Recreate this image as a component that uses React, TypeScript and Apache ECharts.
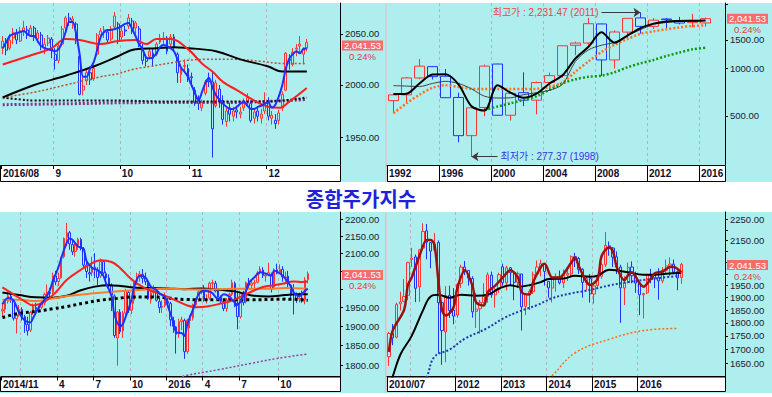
import { useEffect, useRef } from 'react';
import * as echarts from 'echarts';

type OHLC = [number, number, number, number]; // [open, close, low, high]
type Pt = [number, number]; // [category index, value]
type Mark = [number, string]; // [boundary index, label]

const FONT = "'Liberation Sans', Arial, 'Noto Sans CJK KR', sans-serif";
const KFONT = "'Noto Sans CJK KR', 'Noto Sans CJK SC', sans-serif";
const CYAN = '#afeeee';
const UP = '#ff3434';
const DOWN = '#2233ff';

const titleText = '종합주가지수';
const changePct = 0.24;

// ================= Panel 1 : daily 2016/08 - 2016/12 =================
const p1MonthLabels = ['2016/08', '9', '10', '11', '12'];
const p1MonthDays = [15, 19, 20, 22, 12];
const p1Slots = 97;
const p1Ohlc: OHLC[] = [
  [2036, 2043, 2030, 2048], [2043, 2034, 2029, 2046], [2036, 2044, 2034, 2050], [2046, 2051, 2040, 2056], [2050, 2044, 2040, 2055],
  [2043, 2053, 2042, 2057], [2053, 2056, 2048, 2063], [2054, 2049, 2045, 2058], [2049, 2056, 2047, 2059], [2056, 2047, 2043, 2058],
  [2045, 2051, 2042, 2054], [2049, 2038, 2034, 2052], [2036, 2040, 2030, 2046], [2041, 2046, 2038, 2049], [2045, 2034, 2026, 2047],
  [2030, 2024, 2015, 2036], [2024, 2038, 2021, 2040], [2040, 2055, 2038, 2058], [2056, 2066, 2052, 2068], [2066, 2064, 2058, 2071],
  [2063, 2065, 2055, 2068], [2060, 2045, 2040, 2062], [2028, 1991, 1990, 2030], [1995, 1999, 1990, 2008], [2004, 2012, 2000, 2016],
  [2012, 2005, 2000, 2018], [2006, 2016, 2004, 2020], [2030, 2049, 2028, 2051], [2049, 2053, 2044, 2056], [2052, 2054, 2046, 2058],
  [2052, 2044, 2040, 2055], [2045, 2055, 2043, 2058], [2057, 2068, 2055, 2072], [2060, 2043, 2040, 2062], [2047, 2053, 2044, 2058],
  [2054, 2053, 2048, 2058], [2058, 2066, 2055, 2070], [2063, 2054, 2050, 2066], [2056, 2061, 2050, 2063], [2055, 2040, 2037, 2058],
  [2034, 2024, 2020, 2040], [2026, 2023, 2018, 2030], [2028, 2033, 2025, 2036], [2031, 2026, 2018, 2036], [2030, 2040, 2028, 2042],
  [2042, 2046, 2040, 2050], [2045, 2046, 2040, 2052], [2046, 2033, 2030, 2048], [2040, 2047, 2036, 2050], [2047, 2037, 2033, 2050],
  [2030, 2012, 2002, 2032], [2010, 2016, 2002, 2020], [2018, 2019, 2012, 2025], [2016, 2008, 2003, 2020], [2008, 2007, 1998, 2012],
  [1995, 1983, 1980, 1998], [1985, 1982, 1976, 1990], [1978, 1983, 1975, 1986], [1992, 2003, 1990, 2005], [2004, 2003, 1998, 2012],
  [2003, 1958, 1931, 2013], [1980, 2002, 1978, 2005], [1996, 1984, 1978, 2000], [1985, 1967, 1962, 1990], [1965, 1975, 1960, 1978],
  [1978, 1972, 1965, 1983], [1970, 1975, 1965, 1979], [1976, 1974, 1968, 1980], [1972, 1974, 1968, 1979], [1978, 1983, 1975, 1987],
  [1984, 1988, 1980, 1992], [1982, 1966, 1964, 1985], [1968, 1974, 1963, 1978], [1975, 1970, 1965, 1978], [1968, 1972, 1963, 1977],
  [1975, 1983, 1972, 1993], [1985, 1970, 1966, 1988], [1968, 1971, 1962, 1975], [1966, 1963, 1958, 1972], [1966, 1973, 1962, 1976],
  [1978, 1991, 1975, 1994], [1995, 2031, 1994, 2032], [2025, 2024, 2015, 2030], [2020, 2032, 2018, 2036], [2035, 2036, 2028, 2040],
  [2038, 2040, 2032, 2048], [2030, 2035, 2020, 2037], [2036, 2041.53, 2033, 2045],
];
const p1Ma5: number[] = [
  2036, 2042, 2048, 2050, 2051, 2052, 2053, 2050, 2048, 2048,
  2043, 2038, 2036, 2035, 2034, 2033, 2035, 2042, 2052, 2062,
  2062, 2050, 2030, 2008, 2008, 2016, 2022, 2034, 2047, 2052,
  2054, 2054, 2055, 2056, 2058, 2060, 2061, 2055, 2048, 2040,
  2035, 2027, 2026, 2027, 2031, 2037, 2039, 2038, 2036, 2033,
  2025, 2017, 2013, 2008, 2000, 1992, 1985, 1993, 2002, 2007,
  1998, 1990, 1986, 1982, 1979, 1977, 1977, 1979, 1982, 1984,
  1980, 1977, 1977, 1979, 1980, 1982, 1983, 1978, 1981, 1989,
  2000, 2016, 2026, 2030, 2033, 2031, 2035, 2036,
];
const p1Ma20: Pt[] = [[0, 2020], [9, 2030], [14, 2036], [18, 2045], [22, 2044], [28, 2040], [33, 2043], [38, 2044], [41, 2040], [44, 2045], [48, 2045], [53, 2035], [57, 2021], [60, 2013], [63, 2003], [67, 1995], [72, 1985], [76, 1979], [79, 1978], [82, 1984], [87, 1997]];
const p1Ma60: Pt[] = [[0, 1988], [9, 2000], [14, 2005], [18, 2009], [26, 2018], [33, 2028], [38, 2035], [44, 2036], [49, 2037], [53, 2036], [61, 2033], [68, 2025], [76, 2018], [80, 2013], [87, 2013]];
const p1Ma120: Pt[] = [[0, 1988], [9, 1993], [18, 2000], [28, 2008], [33, 2011], [37, 2015], [42, 2018], [49, 2022], [53, 2024], [58, 2025], [66, 2025], [74, 2023], [80, 2021], [87, 2021]];
const p1MaBlackDot: Pt[] = [[0, 1988], [5, 1986], [9, 1985], [30, 1985], [50, 1984], [70, 1984], [80, 1985], [87, 1988]];
const p1MaPurpleDot: Pt[] = [[0, 1981], [20, 1982], [40, 1983], [60, 1983], [75, 1984], [87, 1986]];
const p1Range: [number, number] = [1924, 2081];
const p1Ticks = [1950, 2000, 2050];
const p1TickLabels = [1950, 2000, 2050];

// ================= Panel 2 : yearly 1992 - 2016 (log) =================
const p2FirstYear = 1992;
const p2Slots = 26;
const p2Marks: Mark[] = [[0, '1992'], [4, '1996'], [8, '2000'], [12, '2004'], [16, '2008'], [20, '2012'], [24, '2016']];
const p2Ohlc: OHLC[] = [
  [624, 678, 520, 690], [678, 866, 612, 880], [866, 1027, 850, 1139], [1020, 883, 847, 1030], [888, 651, 651, 986],
  [653, 376, 342, 700], [376, 562, 277.37, 579], [565, 1028, 498, 1052], [1059, 505, 500, 1066], [505, 694, 468, 704],
  [700, 628, 576, 940], [628, 811, 512, 822], [811, 896, 719, 936], [896, 1379, 870, 1382], [1389, 1434, 1203, 1464],
  [1435, 1897, 1345, 2065], [1891, 1124, 892, 1901], [1124, 1683, 992, 1723], [1681, 2051, 1532, 2052], [2063, 1826, 1644, 2231.47],
  [1826, 1997, 1758, 2057], [2031, 2011, 1772, 2063], [1968, 1916, 1881, 2093], [1927, 1961, 1800, 2189], [1918, 2041.53, 1817, 2073],
];
const p2MaThick: (number | null)[] = [686, 690, 800, 910, 915, 790, 575, 540, 780, 700, 650, 690, 800, 900, 1150, 1360, 1676, 1442, 1600, 1780, 1900, 1960, 1975, 1980, 1985];
const p2MaThin: (number | null)[] = [775, 770, 765, 800, 825, 800, 740, 665, 648, 650, 680, 700, 725, 790, 1100, 1300, 1390, 1450, 1600, 1740, 1880, 1930, 1960, 1975, 1985];
const p2MaOrange: (number | null)[] = [520, 600, 680, 750, 780, 760, 740, 737, 737, 737, 737, 740, 762, 810, 950, 1100, 1260, 1400, 1520, 1640, 1700, 1750, 1800, 1835, 1850];
const p2MaGreen: (number | null)[] = [null, null, null, null, null, null, null, 545, 573, 600, 630, 665, 730, 800, 850, 880, 895, 940, 1010, 1070, 1124, 1190, 1250, 1310, 1340];
const p2High = { value: 2231.47, year: '2011', arrowFrom: '2008' };
const p2Low = { value: 277.37, year: '1998', arrowFrom: '2000' };
const p2Range: [number, number] = [246, 2560];
const p2Ticks = [500, 1000, 1500, 2500];
const p2TickLabels = [500, 1000, 1500];

// ================= Panel 3 : weekly 2014/11 - 2016/12 (log) =================
const p3FirstWeek = '2014-11-10';
const p3Slots = 121;
const p3Marks: Mark[] = [[0, '2014/11'], [7, ''], [20, '4'], [33, '7'], [46, '10'], [59, '2016'], [72, '4'], [85, '7'], [99, '10']];
const p3Ohlc: OHLC[] = [
  [1940, 1944, 1925, 1960], [1945, 1965, 1935, 1970], [1966, 1981, 1960, 1990], [1980, 1970, 1962, 1992], [1968, 1921, 1915, 1972],
  [1920, 1929, 1881, 1935], [1932, 1944, 1925, 1956], [1944, 1926, 1915, 1950], [1925, 1904, 1883, 1930], [1905, 1888, 1876, 1925],
  [1890, 1936, 1885, 1940], [1937, 1952, 1930, 1960], [1950, 1946, 1932, 1962], [1945, 1950, 1938, 1955], [1950, 1961, 1945, 1966],
  [1962, 1985, 1955, 1990], [1986, 1991, 1980, 2012], [1990, 1987, 1975, 2003], [1990, 2037, 1985, 2045], [2036, 2019, 2010, 2050],
  [2020, 2029, 2008, 2045], [2030, 2087, 2028, 2090], [2090, 2143, 2085, 2146], [2145, 2159, 2120, 2189], [2160, 2127, 2110, 2165],
  [2125, 2104, 2095, 2140], [2105, 2122, 2090, 2130], [2125, 2140, 2110, 2145], [2140, 2114, 2108, 2145], [2112, 2066, 2060, 2118],
  [2065, 2048, 2030, 2075], [2045, 2041, 2020, 2060], [2045, 2060, 2035, 2090], [2060, 2053, 2030, 2100], [2050, 2031, 2010, 2060],
  [2035, 2076, 2030, 2085], [2076, 2044, 2040, 2080], [2042, 2030, 2010, 2048], [2030, 2010, 2000, 2040], [2008, 1983, 1940, 2015],
  [1980, 1876, 1870, 1985], [1870, 1937, 1800, 1940], [1937, 1886, 1880, 1945], [1888, 1934, 1870, 1940], [1935, 1995, 1930, 2000],
  [1990, 1942, 1935, 1995], [1942, 1969, 1932, 1975], [1970, 2019, 1960, 2025], [2020, 2033, 2010, 2045], [2033, 2041, 2020, 2050],
  [2040, 2029, 2015, 2055], [2030, 2020, 2010, 2045], [2018, 1973, 1970, 2025], [1970, 1989, 1960, 1995], [1990, 1991, 1975, 2010],
  [1990, 1969, 1965, 2000], [1965, 1949, 1935, 1975], [1950, 1953, 1935, 1968], [1955, 1966, 1950, 1990], [1966, 1961, 1950, 1975],
  [1960, 1917, 1900, 1965], [1915, 1900, 1883, 1925], [1898, 1879, 1830, 1900], [1880, 1912, 1870, 1920], [1912, 1917, 1890, 1925],
  [1915, 1835, 1817, 1920], [1835, 1916, 1830, 1920], [1915, 1920, 1895, 1930], [1922, 1957, 1915, 1960], [1957, 1971, 1950, 1975],
  [1972, 1992, 1965, 1996], [1992, 1995, 1985, 2000], [1995, 1972, 1965, 2010], [1970, 1972, 1960, 1985], [1975, 2015, 1970, 2020],
  [2015, 2017, 2000, 2025], [2015, 1994, 1990, 2022], [1995, 1977, 1970, 2000], [1977, 1966, 1960, 1982], [1965, 1947, 1940, 1970],
  [1947, 1969, 1938, 1975], [1970, 1985, 1965, 1990], [1985, 2017, 1980, 2025], [2015, 1953, 1950, 2020], [1955, 1925, 1892, 1995],
  [1925, 1987, 1920, 1990], [1987, 1963, 1955, 1995], [1965, 2017, 1960, 2020], [2017, 2010, 2000, 2030], [2010, 2016, 2000, 2025],
  [2015, 2017, 1995, 2025], [2018, 2044, 2015, 2050], [2045, 2055, 2040, 2063], [2052, 2037, 2030, 2060], [2035, 2038, 2020, 2045],
  [2040, 2045, 2035, 2073], [2040, 1999, 1990, 2045], [2005, 2053, 2000, 2057], [2053, 2043, 2040, 2070], [2045, 2054, 2045, 2068],
  [2054, 2033, 2020, 2063], [2030, 2033, 2018, 2048], [2035, 2019, 2005, 2050], [2010, 1983, 1975, 2012], [1990, 1984, 1931, 2013],
  [1985, 1974, 1962, 1990], [1972, 1974, 1963, 1990], [1975, 1971, 1962, 1995], [1970, 2024, 1958, 2032], [2025, 2041.53, 2015, 2048],
];
const p3MaBlue: Pt[] = [[0, 1958], [2, 1975], [4, 1968], [6, 1935], [8, 1915], [10, 1910], [11, 1922], [13, 1950], [15, 1970], [17, 1997], [18, 2022], [20, 2060], [22, 2110], [24, 2143], [25, 2139], [27, 2120], [29, 2112], [30, 2078], [32, 2058], [34, 2052], [36, 2037], [37, 2015], [39, 1979], [40, 1930], [42, 1900], [43, 1906], [44, 1925], [46, 1968], [47, 2004], [49, 2036], [51, 2032], [53, 2006], [55, 1996], [56, 1988], [58, 1978], [59, 1955], [61, 1910], [62, 1885], [64, 1882], [65, 1875], [66, 1905], [68, 1943], [70, 1985], [72, 1995], [74, 1992], [75, 1988], [77, 1972], [79, 1985], [81, 1979], [82, 1970], [84, 1957], [85, 1966], [87, 1995], [88, 2017], [90, 2032], [92, 2046], [94, 2042], [96, 2036], [97, 2050], [99, 2043], [101, 2028], [103, 2006], [104, 1990], [106, 1980], [108, 1995], [109, 2000]];
const p3MaRed: Pt[] = [[0, 2004], [4, 1985], [8, 1966], [11, 1955], [15, 1965], [19, 1990], [23, 2025], [28, 2053], [31, 2067], [35, 2080], [39, 2075], [42, 2058], [45, 2034], [48, 2015], [52, 1998], [55, 1990], [59, 1978], [62, 1968], [66, 1955], [69, 1950], [73, 1952], [78, 1960], [82, 1968], [86, 1982], [90, 1996], [93, 2005], [97, 2010], [100, 2014], [104, 2020], [107, 2019], [109, 2020]];
const p3MaOrange: Pt[] = [[0, 1970], [6, 1970], [12, 1967], [19, 1975], [24, 1981], [36, 1990], [47, 1996], [59, 2000], [71, 1998], [83, 2000], [95, 2000], [101, 2002], [109, 2000]];
const p3MaBlack: Pt[] = [[0, 1990], [6, 1983], [12, 1977], [18, 1976], [23, 1981], [28, 1996], [33, 2006], [38, 2010], [43, 2007], [48, 2003], [53, 2002], [59, 2001], [65, 1999], [71, 2001], [77, 1998], [83, 1993], [89, 1982], [95, 1979], [101, 1983], [105, 1985], [109, 1985]];
const p3MaBlackDot: Pt[] = [[0, 1923], [6, 1934], [12, 1939], [18, 1946], [23, 1952], [29, 1961], [35, 1969], [41, 1974], [47, 1978], [53, 1978], [59, 1975], [65, 1971], [77, 1970], [89, 1970], [95, 1971], [101, 1972], [109, 1969]];
const p3MaPurpleDot: Pt[] = [[63, 1768], [65, 1775], [77, 1790], [89, 1806], [98, 1818], [109, 1829]];
const p3Range: [number, number] = [1773.6, 2222];
const p3Ticks = [1800, 1850, 1900, 1950, 2000, 2050, 2100, 2150, 2200];
const p3TickLabels = [1800, 1850, 1900, 1950, 2100, 2150, 2200];

// ================= Panel 4 : monthly 2010/07 - 2016/12 (log) =================
const p4FirstMonth = [2010, 7];
const p4Slots = 89;
const p4Marks: Mark[] = [[0, '2010/07'], [6, ''], [18, '2012'], [30, '2013'], [42, '2014'], [54, '2015'], [66, '2016']];
const p4Ohlc: OHLC[] = [
  [1673, 1759, 1640, 1765], [1760, 1742, 1715, 1795], [1745, 1873, 1740, 1880], [1875, 1883, 1848, 1925], [1885, 1905, 1882, 1978], [1910, 2051, 1890, 2052],
  [2063, 2070, 2030, 2116], [2075, 1939, 1882, 2086], [1945, 2107, 1883, 2110], [2115, 2192, 2110, 2231], [2195, 2142, 2064, 2228], [2140, 2101, 2025, 2140],
  [2105, 2133, 2100, 2185], [2140, 1880, 1684, 2150], [1880, 1770, 1644, 1880], [1765, 1909, 1653, 1948], [1910, 1848, 1819, 1950], [1850, 1826, 1794, 1940],
  [1830, 1956, 1820, 1960], [1960, 2030, 1940, 2040], [2030, 2014, 1995, 2057], [2015, 1982, 1950, 2015], [1980, 1843, 1820, 1990], [1845, 1854, 1780, 1920],
  [1855, 1881, 1758, 1891], [1880, 1905, 1870, 1960], [1905, 1996, 1880, 2007], [1995, 1912, 1900, 2010], [1912, 1933, 1860, 1940], [1935, 1997, 1920, 2005],
  [2031, 1962, 1950, 2045], [1962, 2027, 1930, 2036], [2027, 2005, 1950, 2030], [2005, 1964, 1890, 2012], [1965, 2001, 1940, 2010], [2000, 1863, 1770, 2000],
  [1865, 1915, 1830, 1920], [1915, 1926, 1850, 1935], [1925, 1997, 1915, 2010], [2000, 2030, 1990, 2059], [2030, 2045, 1990, 2063], [2045, 2011, 1950, 2045],
  [1968, 1941, 1900, 1970], [1940, 1980, 1881, 1985], [1980, 1986, 1925, 2002], [1988, 1962, 1955, 2015], [1962, 1995, 1940, 2020], [1995, 2002, 1970, 2020],
  [2000, 2076, 1990, 2082], [2076, 2068, 2030, 2093], [2068, 2020, 2000, 2075], [2020, 1964, 1900, 2025], [1965, 1981, 1930, 1990], [1980, 1916, 1880, 2000],
  [1915, 1949, 1876, 1960], [1950, 1986, 1945, 1990], [1990, 2041, 1980, 2050], [2040, 2127, 2030, 2189], [2125, 2115, 2080, 2145], [2115, 2074, 2030, 2120],
  [2075, 2030, 2000, 2100], [2030, 1941, 1800, 2040], [1940, 1963, 1870, 1990], [1965, 2029, 1960, 2050], [2030, 1992, 1960, 2055], [1990, 1961, 1920, 2010],
  [1960, 1912, 1830, 1965], [1912, 1917, 1817, 1920], [1920, 1996, 1915, 2000], [1996, 1994, 1960, 2022], [1994, 1983, 1940, 2000], [1983, 1970, 1892, 2025],
  [1970, 2016, 1960, 2030], [2016, 2035, 2000, 2063], [2035, 2043, 1990, 2073], [2043, 2008, 2000, 2063], [2010, 1983, 1931, 2015], [1985, 2041.53, 1958, 2048],
];
const p4MaMaroon: Pt[] = [[0, 1690], [1, 1770], [4, 1851], [5, 1953], [6, 1985], [8, 2078], [10, 2152], [11, 2152], [12, 2130], [13, 1976], [14, 1848], [15, 1828], [17, 1860], [18, 1939], [20, 2016], [22, 1950], [23, 1880], [25, 1868], [26, 1922], [28, 1950], [30, 1985], [32, 2016], [34, 1985], [35, 1922], [37, 1913], [38, 1966], [40, 2030], [41, 2044], [43, 1985], [45, 1985], [46, 2000], [48, 2049], [49, 2071], [50, 2034], [52, 1966], [53, 1953], [55, 1980], [56, 2078], [58, 2119], [59, 2100], [60, 2030], [62, 1973], [63, 1995], [64, 2007], [66, 1960], [67, 1946], [69, 1980], [70, 2003], [72, 2010], [74, 2030], [75, 2030], [77, 2007]];
const p4MaBlack: Pt[] = [[0, 1570], [1, 1603], [3, 1680], [6, 1750], [9, 1850], [11, 1905], [13, 1912], [16, 1900], [19, 1912], [23, 1908], [26, 1912], [29, 1938], [32, 1952], [34, 1946], [37, 1952], [40, 1965], [42, 1978], [46, 1980], [49, 1992], [53, 1988], [55, 1993], [58, 2018], [60, 2015], [63, 2007], [67, 1997], [70, 1997], [73, 2001], [77, 2004]];
const p4MaBlueDot: Pt[] = [[9, 1590], [10, 1603], [12, 1673], [16, 1699], [20, 1739], [26, 1780], [30, 1816], [34, 1843], [39, 1870], [43, 1898], [48, 1918], [53, 1932], [58, 1951], [63, 1965], [69, 1978], [73, 1986], [76, 1991]];
const p4MaOrangeDot: Pt[] = [[42, 1598], [43, 1606], [49, 1687], [58, 1737], [67, 1770], [76, 1778]];
const p4Range: [number, number] = [1603, 2286];
const p4Ticks = [1650, 1700, 1750, 1800, 1850, 1900, 1950, 2000, 2050, 2100, 2150, 2200, 2250];
const p4TickLabels = [1650, 1700, 1750, 1800, 1850, 1900, 1950, 2150, 2250];

// ================= helpers =================
const fmt2 = (v: number) => v.toLocaleString('en-US', { minimumFractionDigits: 2, maximumFractionDigits: 2 });
const fromArr = (arr: (number | null)[]): Pt[] => arr.map((v, i) => [i, v] as [number, number | null]).filter((p) => p[1] !== null) as Pt[];

function dailyCats() {
  const cats: string[] = [];
  const marks: Mark[] = [];
  p1MonthLabels.forEach((m, mi) => {
    marks.push([cats.length, m]);
    for (let d = 0; d < p1MonthDays[mi]; d++) cats.push(`${m}-${d + 1}`);
  });
  while (cats.length < p1Slots) cats.push(`pad${cats.length}`);
  return { cats, marks };
}
function yearCats() {
  const cats: string[] = [];
  for (let i = 0; i < p2Slots; i++) cats.push(i < p2Ohlc.length ? String(p2FirstYear + i) : `pad${i}`);
  return cats;
}
function weekCats() {
  const t0 = new Date(p3FirstWeek + 'T00:00:00Z').getTime();
  const cats: string[] = [];
  for (let i = 0; i < p3Slots; i++) cats.push(i < p3Ohlc.length ? new Date(t0 + i * 7 * 86400000).toISOString().slice(0, 10) : `pad${i}`);
  return cats;
}
function monthCats() {
  const cats: string[] = [];
  for (let i = 0; i < p4Slots; i++) {
    const m0 = p4FirstMonth[1] - 1 + i;
    const y = p4FirstMonth[0] + Math.floor(m0 / 12);
    const m = (m0 % 12) + 1;
    cats.push(i < p4Ohlc.length ? `${y}/${String(m).padStart(2, '0')}` : `pad${i}`);
  }
  return cats;
}

interface LineDef { data: Pt[]; color: string; width: number; dash?: number[]; smooth?: number; markLine?: any; }
interface Layout { left: number; top: number; width: number; height: number; band: number; bg: [number, number, number, number]; }
interface PanelDef {
  cats: string[]; marks: Mark[]; ohlc: OHLC[]; range: [number, number]; ticks: number[]; labels: number[];
  lines: LineDef[]; barWidth: string; tickLen: number; layout: Layout;
}

function arrowMark(text: string, color: string, from: string, to: string, value: number) {
  return {
    silent: true,
    symbol: ['none', 'arrow'],
    symbolSize: 7,
    lineStyle: { color: '#3a3a3a', width: 1, type: 'solid', opacity: 1 },
    label: { show: true, position: 'start', distance: 3, formatter: text, color, fontSize: 10, fontFamily: FONT },
    data: [[{ coord: [from, Math.log(value)] }, { coord: [to, Math.log(value)] }]],
  };
}

function buildOption() {
  const d1 = dailyCats();
  const panels: PanelDef[] = [
    {
      cats: d1.cats, marks: d1.marks, ohlc: p1Ohlc, range: p1Range, ticks: p1Ticks, labels: p1TickLabels,
      barWidth: '70%', tickLen: 4,
      layout: { left: 0, top: 3, width: 340, height: 162, band: 16, bg: [0, 3, 385, 179] },
      lines: [
        { data: p1MaPurpleDot, color: '#8e2c8e', width: 3, dash: [2, 2], smooth: 0.4 },
        { data: p1MaBlackDot, color: '#111111', width: 2, dash: [2, 2], smooth: 0.4 },
        { data: p1Ma120, color: '#b8502a', width: 1.5, dash: [2, 2], smooth: 0.4 },
        { data: p1Ma60, color: '#000000', width: 2, smooth: 0.4 },
        { data: p1Ma20, color: '#ff1f1f', width: 2, smooth: 0.4 },
        { data: fromArr(p1Ma5), color: '#1f2fff', width: 2, smooth: 0.3 },
      ],
    },
    {
      cats: yearCats(), marks: p2Marks, ohlc: p2Ohlc, range: p2Range, ticks: p2Ticks, labels: p2TickLabels,
      barWidth: '80%', tickLen: 16,
      layout: { left: 387, top: 3, width: 338, height: 162, band: 16, bg: [387, 3, 385, 179] },
      lines: [
        {
          data: fromArr(p2MaGreen), color: '#109a10', width: 2.5, dash: [2, 2], smooth: 0.3,
          markLine: arrowMark(`최저가 : ${fmt2(p2Low.value)} (${p2Low.year})`, '#3535e0', p2Low.arrowFrom, p2Low.year, p2Low.value),
        },
        {
          data: fromArr(p2MaOrange), color: '#ff7020', width: 2.5, dash: [2, 2], smooth: 0.3,
          markLine: arrowMark(`최고가 : ${fmt2(p2High.value)} (${p2High.year})`, '#e84545', p2High.arrowFrom, p2High.year, p2High.value),
        },
        { data: fromArr(p2MaThin), color: '#404040', width: 1, smooth: 0.3 },
        { data: fromArr(p2MaThick), color: '#000000', width: 2, smooth: 0.3 },
      ],
    },
    {
      cats: weekCats(), marks: p3Marks, ohlc: p3Ohlc, range: p3Range, ticks: p3Ticks, labels: p3TickLabels,
      barWidth: '72%', tickLen: 4,
      layout: { left: 0, top: 212, width: 340, height: 164.5, band: 14.5, bg: [0, 212, 386, 181] },
      lines: [
        { data: p3MaPurpleDot, color: '#9b3b9b', width: 1.5, dash: [2, 2], smooth: 0.4 },
        { data: p3MaBlackDot, color: '#000000', width: 3, dash: [3, 3], smooth: 0.4 },
        { data: p3MaBlack, color: '#000000', width: 2, smooth: 0.4 },
        { data: p3MaOrange, color: '#ff7a2a', width: 2, smooth: 0.4 },
        { data: p3MaRed, color: '#ff1f1f', width: 2, smooth: 0.4 },
        { data: p3MaBlue, color: '#1f2fff', width: 2, smooth: 0.3 },
      ],
    },
    {
      cats: monthCats(), marks: p4Marks, ohlc: p4Ohlc, range: p4Range, ticks: p4Ticks, labels: p4TickLabels,
      barWidth: '72%', tickLen: 14.5,
      layout: { left: 387, top: 212, width: 338, height: 164.5, band: 14.5, bg: [387, 212, 385, 181] },
      lines: [
        { data: p4MaOrangeDot, color: '#ff6a1a', width: 1.5, dash: [2, 2], smooth: 0.4 },
        { data: p4MaBlueDot, color: '#2236b0', width: 2, dash: [2, 2], smooth: 0.4 },
        { data: p4MaBlack, color: '#000000', width: 2, smooth: 0.4 },
        { data: p4MaMaroon, color: '#9c1010', width: 2.5, smooth: 0.3 },
      ],
    },
  ];

  const grid: any[] = [];
  const xAxis: any[] = [];
  const yAxis: any[] = [];
  const series: any[] = [];
  const graphic: any[] = [];

  panels.forEach((p, g) => {
    const L = p.layout;
    graphic.push({ type: 'rect', z: -20, silent: true, shape: { x: L.bg[0], y: L.bg[1], width: L.bg[2], height: L.bg[3] }, style: { fill: CYAN } });
    graphic.push({
      type: 'rect', z: -10, silent: true,
      shape: { x: L.left + 0.5, y: L.top + L.height + 0.5, width: L.width, height: L.band },
      style: { fill: '#ffffff', stroke: '#000000', lineWidth: 1 },
    });
    grid.push({ left: L.left, top: L.top, width: L.width, height: L.height, show: false, containLabel: false });

    const labelMap = new Map<number, string>(p.marks);
    const splitSet = new Set(p.marks.filter((m) => m[0] > 0).map((m) => m[0]));
    const labelSet = new Set(p.marks.filter((m) => m[1] !== '').map((m) => m[0]));
    const bounds = Array.from({ length: p.cats.length + 1 }, (_, i) => `b${i}`);

    xAxis.push({ type: 'category', gridIndex: g, data: p.cats, boundaryGap: true, show: false, position: 'bottom' });
    xAxis.push({
      type: 'category', gridIndex: g, data: bounds, boundaryGap: false, position: 'bottom',
      axisLine: { show: true, lineStyle: { color: '#000', width: 1 } },
      axisTick: { show: true, inside: false, length: p.tickLen, interval: (i: number) => labelSet.has(i), lineStyle: { color: '#000', width: 1 } },
      axisLabel: {
        show: true, interval: (i: number) => labelSet.has(i), formatter: (_v: string, i: number) => labelMap.get(i) ?? '',
        align: 'left', margin: 3, padding: [0, 0, 0, 2], fontSize: 10, fontWeight: 'bold', color: '#0e0e2e', fontFamily: FONT,
      },
      splitLine: { show: true, interval: (i: number) => splitSet.has(i), lineStyle: { color: '#b4b4b4', width: 1, type: [3, 3] } },
    });
    yAxis.push({
      type: 'value', gridIndex: g, position: 'right',
      min: Math.log(p.range[0]), max: Math.log(p.range[1]),
      axisLine: { show: true, lineStyle: { color: '#000', width: 1 } },
      axisTick: { show: true, inside: false, length: 3, customValues: p.ticks.map(Math.log), lineStyle: { color: '#000' } },
      axisLabel: {
        show: true, customValues: p.labels.map(Math.log), formatter: (v: number) => Math.exp(v).toFixed(2),
        margin: 5, fontSize: 9.5, color: '#20202a', fontFamily: FONT,
      },
      splitLine: { show: false },
    });

    const lastClose = p.ohlc[p.ohlc.length - 1][1];
    series.push({
      type: 'candlestick', xAxisIndex: 2 * g, yAxisIndex: g, silent: true,
      data: p.ohlc.map((r) => r.map(Math.log)),
      barWidth: p.barWidth,
      itemStyle: { color: 'transparent', color0: 'transparent', borderColor: UP, borderColor0: DOWN, borderWidth: 1 },
      markLine: {
        silent: true, symbol: ['none', 'none'],
        lineStyle: { color: 'rgba(0,0,0,0)', width: 1, opacity: 1, type: 'solid' },
        label: {
          show: true, position: 'end', distance: 2, padding: [12, 0, 0, 0], opacity: 1,
          formatter: `{a|${fmt2(lastClose)}}\n{b|${changePct.toFixed(2)}%}`,
          rich: {
            a: { width: 41, height: 10, lineHeight: 10, align: 'center', backgroundColor: '#f76b6b', color: '#ffffff', fontSize: 9.5, fontFamily: FONT },
            b: { width: 41, height: 12, lineHeight: 12, align: 'center', color: '#e03c3c', fontSize: 9.5, fontFamily: FONT },
          },
        },
        data: [{ yAxis: Math.log(lastClose) }],
      },
    });
    p.lines.forEach((l) => {
      series.push({
        type: 'line', xAxisIndex: 2 * g, yAxisIndex: g, silent: true,
        data: l.data.map(([i, v]) => [i, Math.log(v)]),
        showSymbol: false, symbol: 'none', smooth: l.smooth ?? false, connectNulls: true,
        lineStyle: { color: l.color, width: l.width, type: l.dash ?? 'solid' },
        markLine: l.markLine,
      });
    });
  });

  graphic.push({ type: 'line', z: -5, silent: true, shape: { x1: 386, y1: 3, x2: 386, y2: 182 }, style: { stroke: '#c4c4c4', lineWidth: 1.5 } });
  graphic.push({ type: 'line', z: -5, silent: true, shape: { x1: 386, y1: 212, x2: 386, y2: 393 }, style: { stroke: '#c4c4c4', lineWidth: 1.5 } });
  graphic.push({
    type: 'text', z: 10, silent: true, x: 361, y: 198,
    style: {
      text: titleText, fill: '#1f1fdd', fontSize: 20, fontWeight: 'bold', fontFamily: KFONT,
      align: 'center', verticalAlign: 'middle', textAlign: 'center', textVerticalAlign: 'middle',
    },
  });

  return { animation: false, grid, xAxis, yAxis, series, graphic };
}

export default function App() {
  const ref = useRef<HTMLDivElement>(null);
  useEffect(() => {
    if (!ref.current) return;
    const chart = echarts.init(ref.current, null, { renderer: 'svg' });
    chart.setOption(buildOption() as any);
    return () => chart.dispose();
  }, []);
  return <div ref={ref} style={{ position: 'fixed', left: 0, top: 0, width: 772, height: 397, background: '#ffffff' }} />;
}
